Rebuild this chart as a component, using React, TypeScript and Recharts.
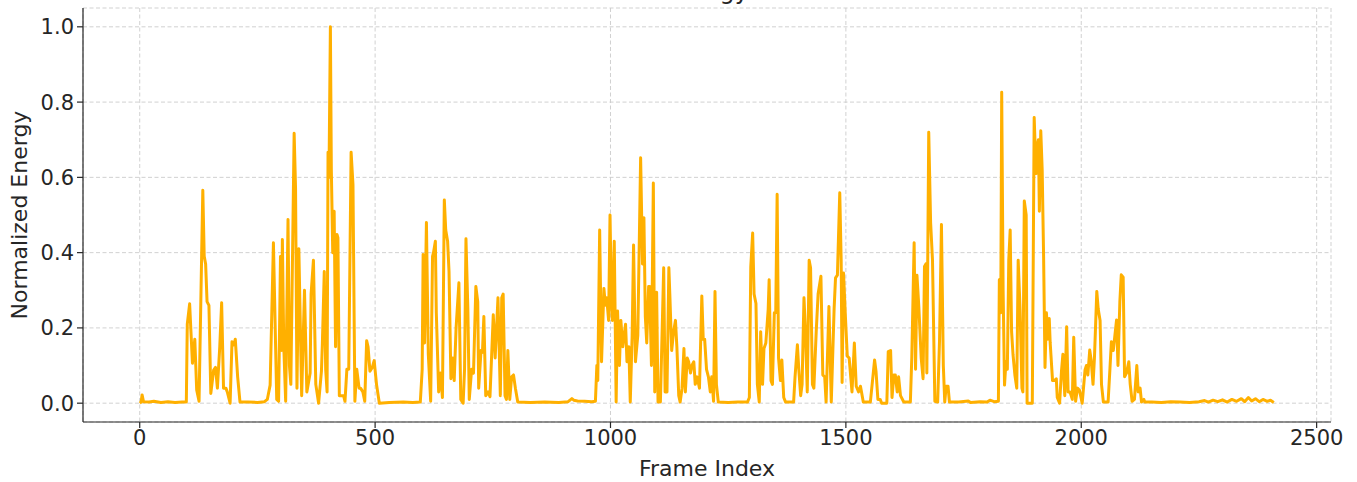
import React from "react";
import { LineChart, Line, XAxis, YAxis, CartesianGrid, Label } from "recharts";

// [frame, normalized energy], split by region
const lead: [number, number][] = [
  [0, 0.0], [3, 0.003], [5, 0.022], [8, 0.004], [20, 0.003], [30, 0.005], [45, 0.002],
  [60, 0.004], [75, 0.002], [90, 0.003], [99, 0.003],
  [101, 0.21], [106, 0.264], [112, 0.106], [117, 0.17], [121, 0.035], [126, 0.005],
  [134, 0.566], [137, 0.39], [140, 0.37], [143, 0.27], [147, 0.26], [151, 0.026],
  [157, 0.088], [161, 0.095], [165, 0.04], [170, 0.15], [174, 0.267], [178, 0.04],
  [183, 0.04], [186, 0.03], [192, 0.0], [196, 0.163], [200, 0.155], [203, 0.17],
  [208, 0.07], [213, 0.003], [230, 0.003], [250, 0.002], [265, 0.004], [271, 0.01],
];

const burstA: [number, number][] = [
  [277, 0.048], [284, 0.426], [291, 0.01], [295, 0.005], [299, 0.39], [301, 0.14],
  [303, 0.435], [306, 0.15], [310, 0.005], [315, 0.488], [318, 0.1], [321, 0.05],
  [328, 0.717], [331, 0.57], [334, 0.04], [338, 0.41], [344, 0.02], [350, 0.3],
  [355, 0.03], [362, 0.08], [364, 0.29], [369, 0.38], [374, 0.05], [380, 0.0],
  [386, 0.085], [388, 0.16], [392, 0.35], [395, 0.09], [398, 0.03], [400, 0.667],
  [402, 0.6], [405, 1.0], [407, 0.62], [410, 0.4], [413, 0.51], [416, 0.15],
  [419, 0.448], [421, 0.44], [424, 0.02], [433, 0.02], [436, 0.005], [440, 0.09],
  [444, 0.09], [449, 0.667], [453, 0.58], [457, 0.005], [461, 0.09], [466, 0.04],
  [469, 0.04], [474, 0.03], [478, 0.005], [482, 0.166], [485, 0.15], [489, 0.085],
  [494, 0.095], [498, 0.113], [503, 0.05], [509, 0.0], [530, 0.002], [560, 0.003],
  [580, 0.002], [596, 0.003],
];

const burstB: [number, number][] = [
  [600, 0.09], [602, 0.395], [605, 0.16], [609, 0.48], [613, 0.13], [618, 0.005],
  [622, 0.39], [624, 0.4], [628, 0.43], [630, 0.24], [635, 0.03], [639, 0.08],
  [643, 0.015], [647, 0.54], [650, 0.46], [654, 0.43], [657, 0.35], [661, 0.065],
  [665, 0.12], [668, 0.06], [672, 0.2], [678, 0.32], [682, 0.01], [687, 0.0],
  [690, 0.09], [693, 0.437], [697, 0.25], [700, 0.01], [705, 0.09], [709, 0.08],
  [714, 0.31], [718, 0.27], [720, 0.04], [725, 0.14], [728, 0.135], [731, 0.23],
  [735, 0.02], [740, 0.03], [744, 0.017], [751, 0.235], [755, 0.12], [761, 0.28],
  [766, 0.02], [769, 0.28], [772, 0.29], [776, 0.02], [779, 0.01], [782, 0.14],
  [786, 0.01], [790, 0.07], [794, 0.075], [798, 0.04], [803, 0.003], [830, 0.002],
  [860, 0.003], [890, 0.002], [910, 0.004], [918, 0.012], [922, 0.008], [930, 0.006],
  [945, 0.005], [960, 0.004], [968, 0.005],
];

const burstC: [number, number][] = [
  [971, 0.1], [973, 0.06], [977, 0.46], [981, 0.11], [986, 0.305], [989, 0.26],
  [992, 0.28], [996, 0.22], [999, 0.5], [1002, 0.27], [1004, 0.22], [1008, 0.43],
  [1012, 0.003], [1015, 0.245], [1019, 0.1], [1022, 0.22], [1026, 0.15], [1032, 0.21],
  [1035, 0.11], [1039, 0.15], [1042, 0.003], [1046, 0.18], [1049, 0.42], [1053, 0.11],
  [1058, 0.18], [1064, 0.652], [1068, 0.37], [1071, 0.493], [1074, 0.23], [1077, 0.16],
  [1081, 0.31], [1083, 0.31], [1087, 0.1], [1091, 0.585], [1094, 0.03], [1098, 0.295],
  [1101, 0.003], [1106, 0.003], [1113, 0.36], [1116, 0.03], [1120, 0.03], [1124, 0.36],
  [1126, 0.29], [1130, 0.14], [1134, 0.19], [1138, 0.22], [1141, 0.15], [1145, 0.02],
  [1148, 0.003], [1152, 0.04], [1156, 0.145], [1159, 0.03], [1163, 0.12], [1166, 0.11],
  [1170, 0.08], [1173, 0.1], [1177, 0.11], [1180, 0.05], [1184, 0.07], [1189, 0.04],
  [1194, 0.285], [1197, 0.17], [1200, 0.17], [1204, 0.09], [1208, 0.07], [1212, 0.03],
  [1215, 0.07], [1219, 0.005], [1222, 0.297], [1225, 0.05], [1229, 0.003],
  [1250, 0.002], [1270, 0.003], [1291, 0.003],
];

const burstD: [number, number][] = [
  [1295, 0.015], [1298, 0.363], [1302, 0.452], [1305, 0.29], [1309, 0.265], [1312, 0.05],
  [1316, 0.003], [1319, 0.19], [1323, 0.05], [1326, 0.145], [1330, 0.16], [1335, 0.25],
  [1337, 0.328], [1341, 0.06], [1344, 0.05], [1348, 0.24], [1351, 0.24], [1354, 0.555],
  [1357, 0.12], [1361, 0.06], [1364, 0.115], [1368, 0.015], [1372, 0.003], [1389, 0.003],
  [1392, 0.07], [1397, 0.155], [1400, 0.09], [1404, 0.02], [1407, 0.05], [1411, 0.28],
  [1414, 0.195], [1418, 0.03], [1422, 0.38], [1425, 0.36], [1429, 0.05], [1432, 0.04],
  [1437, 0.19], [1441, 0.29], [1447, 0.337], [1451, 0.075], [1455, 0.07], [1458, 0.003],
  [1464, 0.257], [1469, 0.003], [1475, 0.25], [1478, 0.333], [1482, 0.34], [1487, 0.559],
  [1490, 0.38], [1492, 0.055], [1495, 0.346], [1499, 0.23], [1503, 0.125], [1507, 0.12],
  [1513, 0.03], [1518, 0.16], [1522, 0.045], [1527, 0.03], [1531, 0.045], [1537, 0.003],
  [1552, 0.003], [1555, 0.04], [1561, 0.115], [1564, 0.085], [1568, 0.01], [1573, 0.01],
  [1576, 0.0], [1587, 0.0], [1590, 0.137], [1595, 0.14], [1598, 0.015], [1602, 0.075],
  [1605, 0.075], [1609, 0.03], [1612, 0.07], [1616, 0.02], [1623, 0.003], [1637, 0.003],
];

const burstE: [number, number][] = [
  [1640, 0.12], [1645, 0.426], [1648, 0.09], [1651, 0.34], [1655, 0.255], [1660, 0.12],
  [1664, 0.065], [1667, 0.363], [1670, 0.37], [1672, 0.08], [1676, 0.72], [1680, 0.48],
  [1684, 0.38], [1689, 0.005], [1695, 0.003], [1699, 0.17], [1703, 0.475], [1707, 0.1],
  [1710, 0.003], [1713, 0.045], [1717, 0.045], [1720, 0.003], [1740, 0.003], [1760, 0.006],
  [1765, 0.002], [1785, 0.004], [1800, 0.003], [1806, 0.008], [1815, 0.004], [1824, 0.005],
];

const burstF: [number, number][] = [
  [1826, 0.328], [1829, 0.24], [1831, 0.826], [1834, 0.3], [1837, 0.048], [1840, 0.11],
  [1843, 0.09], [1846, 0.38], [1849, 0.46], [1852, 0.19], [1855, 0.13], [1859, 0.075],
  [1863, 0.04], [1866, 0.38], [1870, 0.25], [1874, 0.04], [1876, 0.03], [1879, 0.537],
  [1883, 0.5], [1885, 0.0], [1896, 0.0], [1900, 0.759], [1904, 0.61], [1906, 0.68],
  [1909, 0.7], [1911, 0.51], [1914, 0.724], [1917, 0.62], [1920, 0.39], [1923, 0.095],
  [1926, 0.24], [1929, 0.17], [1932, 0.225], [1934, 0.16], [1939, 0.06], [1943, 0.06],
  [1947, 0.065], [1949, 0.015], [1954, 0.0], [1958, 0.085], [1961, 0.13], [1965, 0.02],
  [1969, 0.203], [1972, 0.03], [1976, 0.03], [1981, 0.01], [1984, 0.175], [1988, 0.005],
  [1992, 0.04], [1996, 0.035], [2002, 0.0], [2008, 0.088], [2011, 0.1], [2014, 0.075],
  [2018, 0.141], [2021, 0.115], [2025, 0.05], [2028, 0.12], [2033, 0.297], [2036, 0.25],
  [2040, 0.22], [2043, 0.05], [2047, 0.003], [2057, 0.003], [2061, 0.093], [2064, 0.163],
  [2068, 0.14], [2071, 0.175], [2075, 0.221], [2078, 0.1], [2082, 0.27], [2085, 0.341],
  [2089, 0.335], [2092, 0.07], [2096, 0.08], [2101, 0.11], [2104, 0.05], [2108, 0.005],
  [2113, 0.01], [2118, 0.1], [2121, 0.03], [2125, 0.04], [2128, 0.003], [2133, 0.01],
  [2135, 0.003],
];

const tail: [number, number][] = [
  [2150, 0.003], [2170, 0.002], [2190, 0.004], [2210, 0.003], [2230, 0.002], [2250, 0.004],
  [2262, 0.007], [2270, 0.003], [2280, 0.008], [2290, 0.004], [2300, 0.009], [2310, 0.003],
  [2320, 0.01], [2330, 0.005], [2340, 0.012], [2347, 0.004], [2355, 0.015], [2362, 0.006],
  [2370, 0.012], [2378, 0.004], [2386, 0.01], [2395, 0.005], [2402, 0.008], [2409, 0.002],
];

const xTicks = [0, 500, 1000, 1500, 2000, 2500];
const yTicks = [0, 0.2, 0.4, 0.6, 0.8, 1.0];

const data = [...lead, ...burstA, ...burstB, ...burstC, ...burstD, ...burstE, ...burstF, ...tail].map(
  ([frame, energy]) => ({ frame, energy })
);

const FONT = "DejaVu Sans, sans-serif";
const INK = "#262626";

export default function App() {
  return (
    <div style={{ position: "absolute", left: 0, top: 0, width: 1357, height: 482, overflow: "hidden", background: "#fff" }}>
      <LineChart width={1357} height={482} data={data} margin={{ top: 8, right: 26, bottom: 0, left: 0 }}>
        <CartesianGrid stroke="#cccccc" strokeDasharray="4 2.5" strokeWidth={0.9} />
        <XAxis
          dataKey="frame"
          type="number"
          domain={[-120.5, 2530.5]}
          ticks={xTicks}
          height={60}
          tickSize={6}
          tickMargin={2}
          axisLine={{ stroke: INK, strokeWidth: 1.2 }}
          tickLine={{ stroke: INK, strokeWidth: 1.2 }}
          tick={{ fill: INK, fontSize: 21, fontFamily: FONT }}
        >
          <Label value="Frame Index" position="insideBottom" offset={6} fill={INK} fontSize={22} fontFamily={FONT} />
        </XAxis>
        <YAxis
          type="number"
          domain={[-0.05, 1.05]}
          ticks={yTicks}
          width={83}
          tickSize={6}
          tickMargin={3}
          tickFormatter={(v: number) => v.toFixed(1)}
          axisLine={{ stroke: INK, strokeWidth: 1.2 }}
          tickLine={{ stroke: INK, strokeWidth: 1.2 }}
          tick={{ fill: INK, fontSize: 21, fontFamily: FONT }}
        >
          <Label
            content={({ viewBox }: any) => {
              const cy = viewBox.y + viewBox.height / 2;
              return (
                <text
                  x={27}
                  y={cy}
                  transform={`rotate(-90 27 ${cy})`}
                  textAnchor="middle"
                  fill={INK}
                  fontSize={22}
                  fontFamily={FONT}
                >
                  Normalized Energy
                </text>
              );
            }}
          />
        </YAxis>
        <Line
          type="linear"
          dataKey="energy"
          stroke="#FFB000"
          strokeWidth={3}
          strokeLinejoin="round"
          dot={false}
          isAnimationActive={false}
        />
      </LineChart>
      {/* title sits above the frame; only its descenders show, as in the reference */}
      <svg width={1357} height={482} style={{ position: "absolute", left: 0, top: 0, pointerEvents: "none" }}>
        <text x={707} y={-1} textAnchor="middle" fontSize={24} fontFamily={FONT} fill={INK}>
          Energy
        </text>
      </svg>
    </div>
  );
}
